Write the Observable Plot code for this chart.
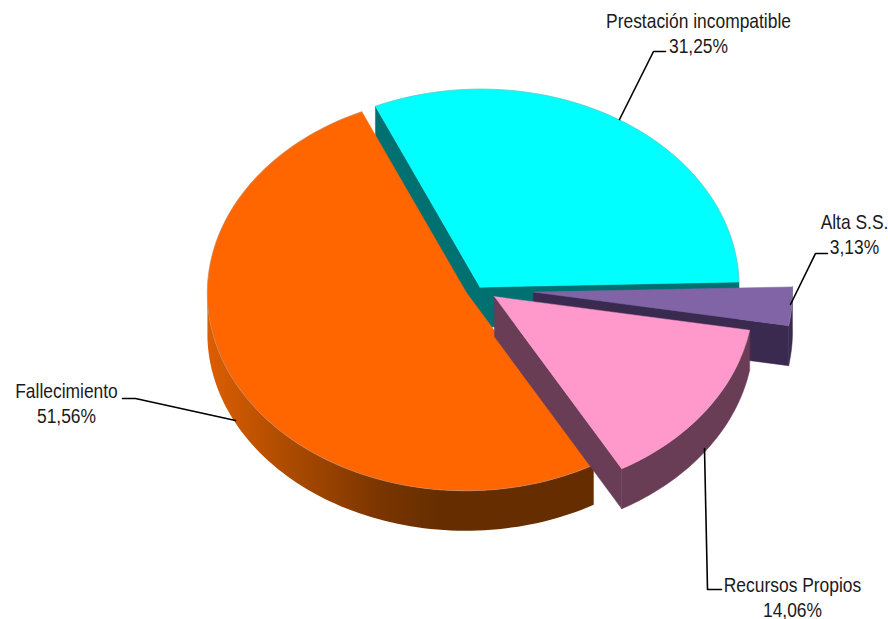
<!DOCTYPE html>
<html><head><meta charset="utf-8">
<style>html,body{margin:0;padding:0;background:#fff}svg{display:block}</style>
<script src="https://cdn.jsdelivr.net/npm/d3@7"></script>
<script src="https://cdn.jsdelivr.net/npm/@observablehq/plot@0.6"></script>
</head><body><script>
const categories = ["Prestación incompatible", "Alta S.S.", "Recursos Propios", "Fallecimiento"];
const shares = [31.25, 3.13, 14.06, 51.56];
const shareLabels = ["31,25%", "3,13%", "14,06%", "51,56%"];
const topColors = ["#00ffff", "#8064a6", "#ff99cc", "#ff6600"];
const wallColors = ["#007070", "#3a2a50", "#693d56", "url(#orangeWall)"];
const explode = [0.005, 0.21, 0.073, 0.055];
const labelX = [698, 854, 792, 66];
const labelY = [32, 233, 596, 402];
const leaders = [
  [[619,119],[653,51],[665,51]],
  [[790,304],[815,253],[827,253]],
  [[704,448],[707,589],[721,589]],
  [[235,420],[135,398],[122,398]]
];

// pie geometry
const center = [478.8, 287.5], rx = 259, ry = 198, depth = 40;
const shearX = 0.03, shearY = -0.02, startDeg = -22.5;
const rad = d => d * Math.PI / 180;

let cum = startDeg;
const slices = shares.map((s, i) => {
  const a0 = cum, a1 = cum + s * 3.6; cum = a1;
  const mid = rad((a0 + a1) / 2);
  return {i, a0, a1,
    ax: center[0] + explode[i] * rx * Math.sin(mid),
    ay: center[1] - explode[i] * ry * Math.cos(mid)};
});
const pt = (s, deg, drop = 0) => {
  const ux = rx * Math.sin(rad(deg)), uy = -ry * Math.cos(rad(deg));
  return {x: s.ax + ux + shearX * uy, y: s.ay + uy + shearY * ux + drop};
};
const arc = (s, a0, a1, drop = 0) => {
  const n = Math.max(2, Math.ceil((a1 - a0) / 1.5));
  return d3.range(n + 1).map(k => pt(s, a0 + (a1 - a0) * k / n, drop));
};
const apex = (s, drop = 0) => ({x: s.ax, y: s.ay + drop});
const face = s => [apex(s), ...arc(s, s.a0, s.a1), apex(s)];
const radialWall = (s, a) => [apex(s), pt(s, a), pt(s, a, depth), apex(s, depth), apex(s)];
const arcWall = (s, a0, a1) => [...arc(s, a0, a1), ...arc(s, a0, a1, depth).reverse()];

const xy = {x: "x", y: "y"};
const poly = (pts, fill) => Plot.line(pts, {...xy, fill, stroke: fill === wallColors[3] ? "none" : fill, strokeWidth: 0.5, curve: "linear-closed"});
const rim = (s, a0, a1, drop) => Plot.line(arc(s, a0, a1, drop), {...xy, stroke: "#999", strokeWidth: 0.7, strokeOpacity: 0.6});

const [cy, pu, pi, or] = slices;
const gradient = () => {
  const g = d3.create("svg:defs");
  const lg = g.append("linearGradient").attr("id", "orangeWall");
  [[0,"#dc5e00"],[0.21,"#ac4b00"],[0.45,"#7a3500"],[0.6,"#662e00"],[1,"#662e00"]]
    .forEach(([o, c]) => lg.append("stop").attr("offset", o).attr("stop-color", c));
  return g.node();
};

const labelRows = categories.map((c, i) => ({text: c + "\n" + shareLabels[i], x: labelX[i], y: labelY[i]}));

const chart = Plot.plot({
  width: 888, height: 619, margin: 0,
  x: {domain: [0, 888], range: [0, 888], axis: null},
  y: {domain: [0, 619], range: [0, 619], axis: null},
  marks: [
    gradient,
    poly(radialWall(cy, cy.a1), wallColors[0]),
    poly(radialWall(cy, cy.a0), wallColors[0]),
    poly(face(cy), topColors[0]),
    rim(cy, cy.a0, cy.a1, 0),
    poly(radialWall(pu, pu.a1), wallColors[1]),
    poly(arcWall(pu, pu.a0, pu.a1), wallColors[1]),
    poly(face(pu), topColors[1]),
    rim(pu, pu.a0, pu.a1, 0),
    poly(arcWall(or, or.a0, 270), wallColors[3]),
    poly(face(or), topColors[3]),
    rim(or, or.a0, or.a1, 0),
    poly(radialWall(pi, pi.a1), wallColors[2]),
    poly(arcWall(pi, pi.a0, pi.a1), wallColors[2]),
    poly(face(pi), topColors[2]),
    ...leaders.map(l => Plot.line(l, {x: d => d[0], y: d => d[1], stroke: "#000", strokeWidth: 1.6})),
    Plot.text(labelRows, {x: "x", y: "y", text: "text", textAnchor: "middle", lineHeight: 1.2,
      fontFamily: "'Liberation Sans',Arial,sans-serif", fontSize: 20.5, fill: "#1a1a1a"})
  ]
});
// Arial Narrow look: condense the label glyphs horizontally
d3.select(chart).selectAll("text").each(function () {
  const t = this.getAttribute("transform") || "";
  this.setAttribute("transform", t + " scale(0.85,1)");
});
document.body.appendChild(chart);
</script></body></html>
